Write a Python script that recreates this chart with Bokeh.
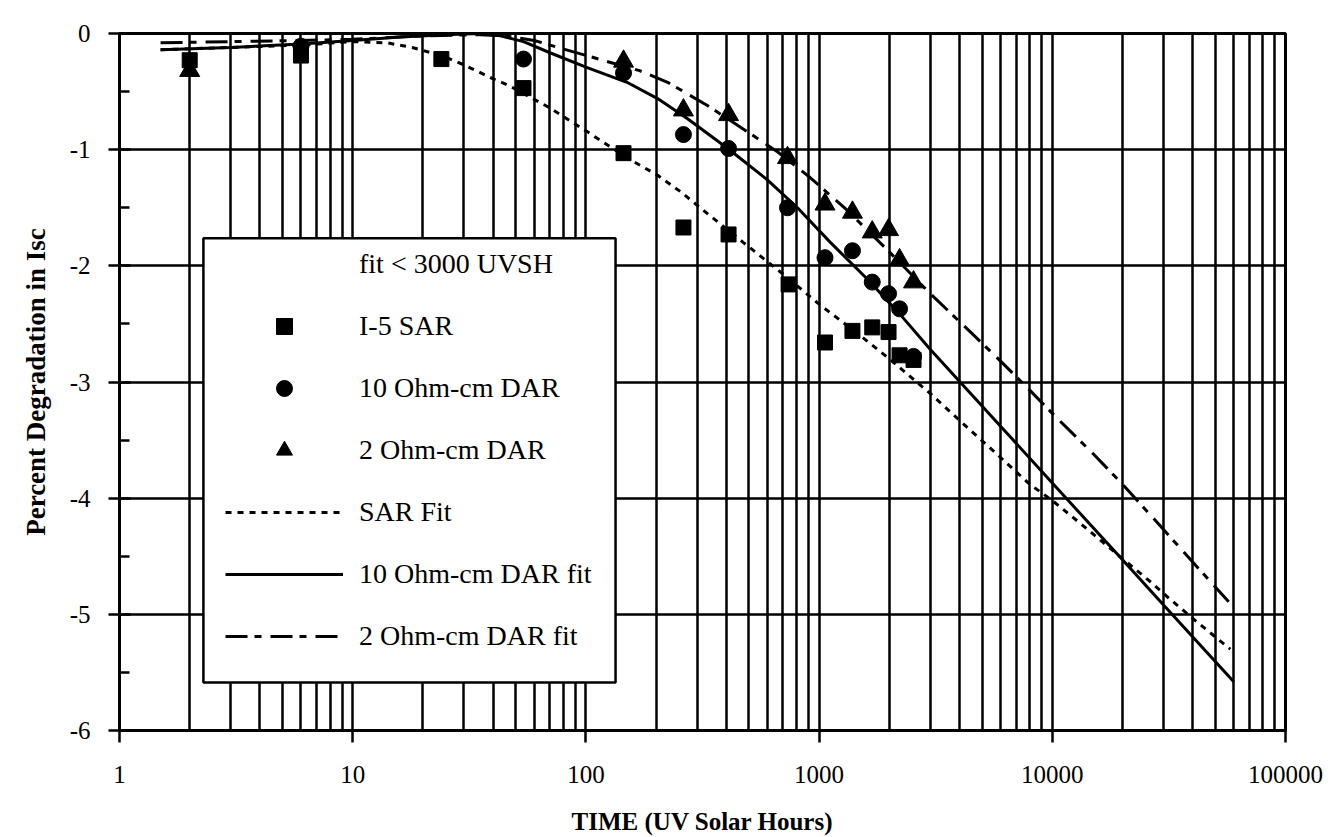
from bokeh.plotting import figure
from bokeh.models import FixedTicker, Legend, LegendItem, BoxAnnotation, ColumnDataSource
from bokeh.embed import file_html
from bokeh.resources import INLINE

# ---------------- data ----------------
sar_t = [2, 6, 24, 54, 145, 262, 409, 740, 1060, 1390, 1690, 1985, 2213, 2541]
sar_y = [-0.23, -0.19, -0.22, -0.47, -1.03, -1.67, -1.73, -2.16, -2.66, -2.56, -2.53, -2.57, -2.77, -2.81]

dar10_t = [6, 54, 145, 262, 409, 732, 1060, 1390, 1690, 1985, 2213, 2541]
dar10_y = [-0.11, -0.22, -0.34, -0.87, -0.99, -1.50, -1.93, -1.87, -2.14, -2.24, -2.37, -2.78]

dar2_t = [2, 24, 54, 145, 262, 409, 732, 1060, 1390, 1690, 1985, 2213, 2541]
dar2_y = [-0.32, 0.11, 0.07, -0.24, -0.66, -0.70, -1.07, -1.47, -1.54, -1.71, -1.69, -1.95, -2.14]

sar_fit_t = [1.5, 3, 6, 10, 14, 18, 24, 30, 40, 47, 70, 104, 150, 203, 254, 332, 474, 700,
             1000, 1500, 2000, 3000, 4000, 6000, 8000, 10000, 14000, 20000, 26000, 32000, 42000, 58000]
sar_fit_y = [-0.14, -0.12, -0.10, -0.07, -0.08, -0.12, -0.19, -0.27, -0.39, -0.45, -0.64, -0.86, -1.07, -1.22,
             -1.36, -1.55, -1.80, -2.07, -2.33, -2.60, -2.80, -3.10, -3.33, -3.65, -3.88, -4.02, -4.26, -4.52,
             -4.71, -4.87, -5.07, -5.30]

dar10_fit_t = [1.5, 3, 6, 10, 16, 25, 35, 43, 54, 71, 100, 150, 203, 271, 406, 600, 808, 1120, 1620,
               2230, 3000, 6000, 10000, 20000, 30000, 60000]
dar10_fit_y = [-0.14, -0.12, -0.09, -0.06, -0.03, -0.01, 0.0, -0.02, -0.07, -0.17, -0.29, -0.42, -0.56,
               -0.73, -0.99, -1.26, -1.50, -1.80, -2.12, -2.42, -2.72, -3.38, -3.87, -4.53, -4.92, -5.58]

dar2_fit_t = [1.5, 3, 6, 10, 20, 35, 45, 60, 79, 123, 170, 224, 332, 523, 665, 915, 1300, 2000, 3000, 4000,
              6000, 8000, 10000, 15000, 20000, 30000, 40000, 57600]
dar2_fit_y = [-0.08, -0.07, -0.06, -0.05, -0.02, -0.01, -0.02, -0.06, -0.13, -0.24, -0.32, -0.42, -0.62,
              -0.88, -1.02, -1.24, -1.51, -1.88, -2.24, -2.48, -2.82, -3.07, -3.27, -3.62, -3.88, -4.27,
              -4.55, -4.90]

x_ticks = [1, 10, 100, 1000, 10000, 100000]
x_tick_labels = ["1", "10", "100", "1000", "10000", "100000"]
y_ticks = [0, -1, -2, -3, -4, -5, -6]
y_tick_labels = ["0", "-1", "-2", "-3", "-4", "-5", "-6"]

legend_title = "fit < 3000 UVSH"
series_labels = ["I-5 SAR", "10 Ohm-cm DAR", "2 Ohm-cm DAR",
                 "SAR Fit", "10 Ohm-cm DAR fit", "2 Ohm-cm DAR fit"]

FONT = "Liberation Serif"

# ---------------- figure ----------------
p = figure(width=1340, height=837, x_axis_type="log",
           x_range=(1, 100000), y_range=(-6, 0),
           output_backend="svg", toolbar_location=None,
           min_border_left=119, min_border_right=55,
           min_border_top=33, min_border_bottom=106)
p.background_fill_color = "white"
p.border_fill_color = "white"
p.outline_line_color = "black"
p.outline_line_width = 3

x_minor = [m * 10 ** d for d in range(5) for m in range(2, 10)]
xticker = FixedTicker(ticks=x_ticks, minor_ticks=x_minor)
y_minor = [v - 0.5 for v in y_ticks[:-1]]
yticker = FixedTicker(ticks=y_ticks, minor_ticks=y_minor)

p.xaxis.ticker = xticker
p.yaxis.ticker = yticker
p.xgrid.ticker = xticker
p.ygrid.ticker = yticker

p.xgrid.grid_line_color = "black"
p.xgrid.grid_line_width = 2.5
p.xgrid.minor_grid_line_color = "black"
p.xgrid.minor_grid_line_width = 2.5
p.ygrid.grid_line_color = "black"
p.ygrid.grid_line_width = 2.5
p.ygrid.minor_grid_line_color = None

for ax in (p.xaxis[0], p.yaxis[0]):
    ax.axis_line_width = 3
    ax.axis_line_color = "black"
    ax.major_tick_line_width = 2.5
    ax.major_tick_line_color = "black"
    ax.major_label_text_font = FONT
    ax.major_label_text_font_size = "25px"
    ax.major_label_text_color = "black"
    ax.axis_label_text_font = FONT
    ax.axis_label_text_font_style = "bold"
    ax.axis_label_text_color = "black"

xa = p.xaxis[0]
xa.major_label_overrides = {t: s for t, s in zip(x_ticks, x_tick_labels)}
xa.major_tick_in = 0
xa.major_tick_out = 12
xa.minor_tick_line_color = None
xa.major_label_standoff = 23
xa.axis_label = "TIME (UV Solar Hours)"
xa.axis_label_text_font_size = "25px"
xa.axis_label_standoff = 22

ya = p.yaxis[0]
ya.major_label_overrides = {t: s for t, s in zip(y_ticks, y_tick_labels)}
ya.major_tick_in = 11
ya.major_tick_out = 11
ya.minor_tick_in = 10
ya.minor_tick_out = 0
ya.minor_tick_line_color = "black"
ya.minor_tick_line_width = 2.5
ya.major_label_standoff = 18
ya.axis_label = "Percent Degradation in Isc"
ya.axis_label_text_font_size = "27px"
ya.axis_label_standoff = 16

# ---------------- fits ----------------
r_sarfit = p.line(sar_fit_t, sar_fit_y, line_color="black", line_width=3, line_dash="6 6")
r_d10fit = p.line(dar10_fit_t, dar10_fit_y, line_color="black", line_width=3)
r_d2fit = p.line(dar2_fit_t, dar2_fit_y, line_color="black", line_width=3, line_dash="22 7 7 9")

# ---------------- points ----------------
r_sar = p.scatter(sar_t, sar_y, marker="square", size=15, color="black")
r_d10 = p.scatter(dar10_t, dar10_y, marker="circle", size=16, color="black")
r_d2 = p.scatter(dar2_t, dar2_y, marker="triangle", size=20, color="black")

# invisible renderer for the legend heading row
r_head = p.line(x="x", y="y", source=ColumnDataSource(data=dict(x=[], y=[])), line_alpha=0)

# ---------------- legend ----------------
box = BoxAnnotation(left=2.29, right=134, top=-1.762, bottom=-5.587,
                    fill_color="white", fill_alpha=1.0,
                    line_color="black", line_width=2.5, line_alpha=1.0)
p.add_layout(box)

items = [LegendItem(label=legend_title, renderers=[r_head])]
for lab, r in zip(series_labels, [r_sar, r_d10, r_d2, r_sarfit, r_d10fit, r_d2fit]):
    items.append(LegendItem(label=lab, renderers=[r]))

legend = Legend(items=items, location=(96, 64),
                glyph_width=118, glyph_height=40, label_height=40,
                label_standoff=16, spacing=22, padding=10, margin=0,
                label_text_font=FONT, label_text_font_size="28px", label_text_color="black",
                background_fill_alpha=0, border_line_alpha=0)
p.add_layout(legend)

open("out.html", "w").write(file_html(p, INLINE))
